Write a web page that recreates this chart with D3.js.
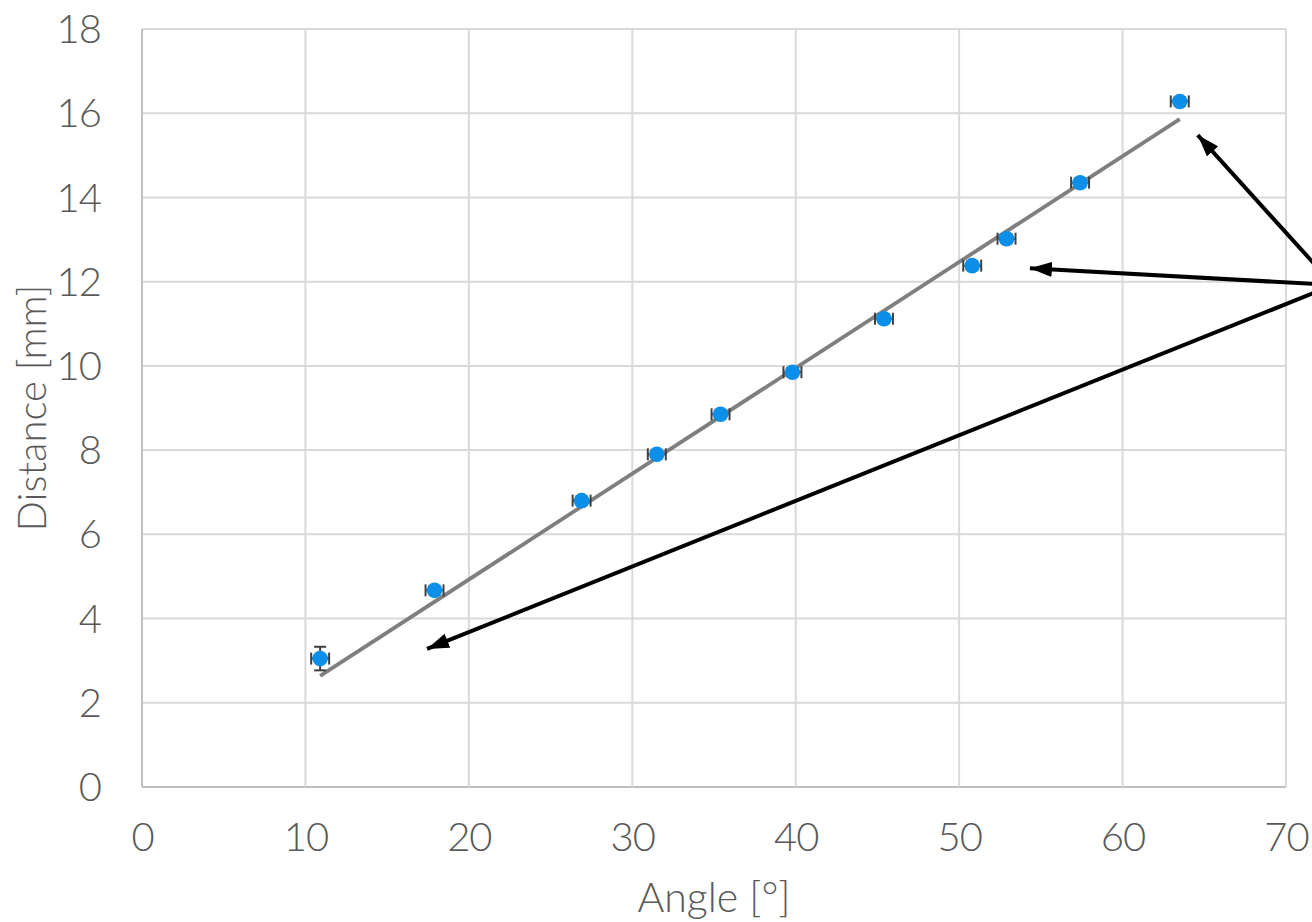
<!DOCTYPE html>
<html>
<head>
<meta charset="utf-8">
<script src="https://cdn.jsdelivr.net/npm/d3@7"></script>
<style>
  body { margin: 0; background: #fff; }
  text { font-family: Lato, "Open Sans", sans-serif; font-weight: 300; fill: #595959; }
</style>
</head>
<body>
<script>
// measured points
const angle    = [10.9, 17.9, 26.9, 31.5, 35.4, 39.8, 45.4, 50.8, 52.9, 57.4, 63.5];
const distance = [3.05, 4.67, 6.8, 7.9, 8.85, 9.85, 11.12, 12.38, 13.02, 14.35, 16.28];
const angleErr = [0.55, 0.55, 0.55, 0.55, 0.55, 0.55, 0.55, 0.55, 0.55, 0.55, 0.55];
const distErr  = [0.28, 0.1, 0.1, 0.1, 0.1, 0.1, 0.1, 0.1, 0.1, 0.1, 0.1];

// linear trend line ends
const trendX = [10.9, 63.5];
const trendY = [2.64, 15.86];

// annotation arrows (data units), all starting from one point off to the right
const arrowStart = [72.9, 11.92];
const arrowTips = [[64.6, 15.48], [54.33, 12.32], [17.44, 3.28]];

const xTicks = [0, 10, 20, 30, 40, 50, 60, 70];
const yTicks = [0, 2, 4, 6, 8, 10, 12, 14, 16, 18];

let w = 1312;
let h = 922;
let m = {left: 142, right: 26, top: 29, bottom: 135};

const xScale = d3.scaleLinear().domain([0, 70]).range([m.left, w - m.right]);
const yScale = d3.scaleLinear().domain([0, 18]).range([h - m.bottom, m.top]);

const svg = d3.select("body").append("svg")
  .attr("width", w)
  .attr("height", h);

svg.append("defs").append("marker")
  .attr("id", "head")
  .attr("markerUnits", "userSpaceOnUse")
  .attr("viewBox", "0 0 22 15")
  .attr("markerWidth", 22)
  .attr("markerHeight", 15)
  .attr("refX", 22)
  .attr("refY", 7.5)
  .attr("orient", "auto")
  .append("path")
  .attr("d", "M0,0 L22,7.5 L0,15 Z")
  .attr("fill", "#000");

// grid
svg.append("g").selectAll("line").data(yTicks).enter().append("line")
  .attr("x1", xScale(0)).attr("x2", xScale(70))
  .attr("y1", d => yScale(d)).attr("y2", d => yScale(d))
  .attr("stroke", d => d === 0 ? "#bfbfbf" : "#d9d9d9")
  .attr("stroke-width", 2);
svg.append("g").selectAll("line").data(xTicks).enter().append("line")
  .attr("y1", yScale(0)).attr("y2", yScale(18))
  .attr("x1", d => xScale(d)).attr("x2", d => xScale(d))
  .attr("stroke", d => d === 0 ? "#bfbfbf" : "#d9d9d9")
  .attr("stroke-width", 2);

// axes (labels only)
const xAxis = d3.axisBottom(xScale).tickValues(xTicks).tickSize(0).tickPadding(36);
const yAxis = d3.axisLeft(yScale).tickValues(yTicks).tickSize(0).tickPadding(41);

const gx = svg.append("g")
  .attr("transform", "translate(0," + (h - m.bottom) + ")")
  .call(xAxis);
const gy = svg.append("g")
  .attr("transform", "translate(" + m.left + ",0)")
  .call(yAxis);
[gx, gy].forEach(g => {
  g.select(".domain").remove();
  g.selectAll("text").style("font-size", "40px").attr("fill", "#595959")
    .style("font-family", "Lato, 'Open Sans', sans-serif")
    .style("letter-spacing", "-1px");
});
gy.selectAll("text").attr("dy", "0.34em");

// trend line
svg.append("line")
  .attr("x1", xScale(trendX[0])).attr("y1", yScale(trendY[0]))
  .attr("x2", xScale(trendX[1])).attr("y2", yScale(trendY[1]))
  .attr("stroke", "#7f7f7f")
  .attr("stroke-width", 3.8);

// error bars
const pts = angle.map((a, i) => ({x: a, y: distance[i], ex: angleErr[i], ey: distErr[i]}));
const eb = svg.append("g").attr("stroke", "#404040").attr("stroke-width", 2);
pts.forEach(d => {
  const cx = xScale(d.x), cy = yScale(d.y);
  const x0 = xScale(d.x - d.ex), x1 = xScale(d.x + d.ex);
  const y0 = yScale(d.y - d.ey), y1 = yScale(d.y + d.ey);
  eb.append("line").attr("x1", x0).attr("x2", x1).attr("y1", cy).attr("y2", cy);
  eb.append("line").attr("x1", x0).attr("x2", x0).attr("y1", cy - 6).attr("y2", cy + 6);
  eb.append("line").attr("x1", x1).attr("x2", x1).attr("y1", cy - 6).attr("y2", cy + 6);
  eb.append("line").attr("x1", cx).attr("x2", cx).attr("y1", y0).attr("y2", y1);
  eb.append("line").attr("x1", cx - 6).attr("x2", cx + 6).attr("y1", y0).attr("y2", y0);
  eb.append("line").attr("x1", cx - 6).attr("x2", cx + 6).attr("y1", y1).attr("y2", y1);
});

// markers
svg.selectAll("circle")
  .data(pts)
  .enter()
  .append("circle")
  .attr("cx", d => xScale(d.x))
  .attr("cy", d => yScale(d.y))
  .attr("r", 7.8)
  .attr("fill", "#0b8fe8");

// arrows
svg.append("g").selectAll("line").data(arrowTips).enter().append("line")
  .attr("x1", xScale(arrowStart[0])).attr("y1", yScale(arrowStart[1]))
  .attr("x2", d => xScale(d[0])).attr("y2", d => yScale(d[1]))
  .attr("stroke", "#000")
  .attr("stroke-width", 4)
  .attr("marker-end", "url(#head)");

// axis titles
svg.append("text")
  .attr("x", (xScale(0) + xScale(70)) / 2)
  .attr("y", 912)
  .attr("text-anchor", "middle")
  .style("font-size", "41px")
  .text("Angle [°]");

svg.append("text")
  .attr("transform", "translate(46," + (yScale(0) + yScale(18)) / 2 + ") rotate(-90)")
  .attr("text-anchor", "middle")
  .style("font-size", "40px")
  .text("Distance [mm]");
</script>
</body>
</html>
